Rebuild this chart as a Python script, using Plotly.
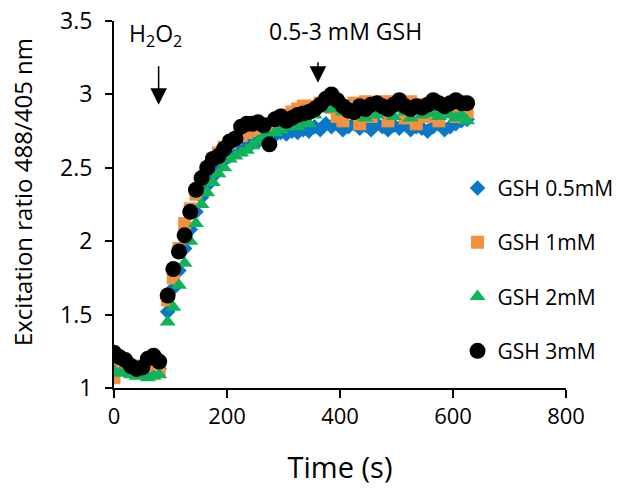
import plotly.graph_objects as go

# time points (s)
time_pre = [0, 10, 20, 30, 40, 50, 60, 70, 80]
time_post = [95, 105, 115, 125, 135, 145, 155, 165, 175, 185, 195, 205, 215, 225, 235,
             245, 255, 265, 275, 285, 295, 305, 315, 325, 335, 345, 355, 365, 375, 385,
             395, 405, 415, 425, 435, 445, 455, 465, 475, 485, 495, 505, 515, 525, 535,
             545, 555, 565, 575, 585, 595, 605, 615, 625]
time_s = time_pre + time_post

gsh_05 = [1.12, 1.15, 1.13, 1.14, 1.12, 1.11, 1.13, 1.14, 1.13,
          1.52, 1.68, 1.80, 1.95, 2.08, 2.20, 2.30, 2.38, 2.44, 2.50, 2.55, 2.58, 2.62, 2.64, 2.66,
          2.67, 2.68, 2.70, 2.71, 2.72, 2.74, 2.73, 2.75, 2.74, 2.76, 2.75, 2.78, 2.76, 2.80, 2.78,
          2.80, 2.76, 2.78, 2.80, 2.77, 2.79, 2.76, 2.80, 2.78, 2.76, 2.79, 2.77, 2.80, 2.76, 2.78,
          2.77, 2.75, 2.78, 2.80, 2.76, 2.78, 2.80, 2.82, 2.83]
gsh_1 = [1.07, 1.14, 1.13, 1.12, 1.15, 1.14, 1.16, 1.15, 1.12,
         1.60, 1.75, 1.95, 2.12, 2.22, 2.32, 2.42, 2.50, 2.56, 2.60, 2.64, 2.67, 2.70, 2.72, 2.74,
         2.76, 2.78, 2.79, 2.80, 2.82, 2.84, 2.86, 2.88, 2.90, 2.92, 2.90, 2.92, 2.94, 2.95, 2.91,
         2.85, 2.82, 2.92, 2.94, 2.80, 2.95, 2.85, 2.92, 2.95, 2.82, 2.95, 2.92, 2.84, 2.95, 2.80,
         2.93, 2.85, 2.95, 2.82, 2.90, 2.93, 2.85, 2.95, 2.88]
gsh_2 = [1.12, 1.10, 1.11, 1.09, 1.08, 1.09, 1.07, 1.08, 1.09,
         1.45, 1.55, 1.70, 1.85, 2.00, 2.12, 2.25, 2.33, 2.40, 2.46, 2.50, 2.56, 2.58, 2.60, 2.62,
         2.65, 2.68, 2.72, 2.70, 2.74, 2.76, 2.78, 2.80, 2.78, 2.82, 2.80, 2.86, 2.90, 2.93, 2.90,
         2.95, 2.88, 2.92, 2.86, 2.90, 2.84, 2.90, 2.86, 2.92, 2.88, 2.85, 2.90, 2.88, 2.84, 2.90,
         2.86, 2.89, 2.87, 2.85, 2.88, 2.86, 2.84, 2.86, 2.82]
gsh_3 = [1.24, 1.21, 1.19, 1.15, 1.13, 1.14, 1.20, 1.22, 1.18,
         1.63, 1.81, 1.93, 2.04, 2.20, 2.35, 2.43, 2.50, 2.56, 2.58, 2.63, 2.68, 2.70, 2.78, 2.80,
         2.80, 2.81, 2.79, 2.66, 2.83, 2.85, 2.82, 2.84, 2.86, 2.87, 2.88, 2.90, 2.93, 2.97, 3.00,
         2.96, 2.92, 2.89, 2.88, 2.92, 2.90, 2.93, 2.94, 2.92, 2.90, 2.93, 2.96, 2.92, 2.90, 2.92,
         2.91, 2.93, 2.96, 2.94, 2.92, 2.94, 2.96, 2.94, 2.94]

series_names = ["GSH 0.5mM", "GSH 1mM", "GSH 2mM", "GSH 3mM"]
series_values = [gsh_05, gsh_1, gsh_2, gsh_3]
colors = ["#0A78C8", "#F4913F", "#10B25A", "#000000"]
symbols = ["diamond", "square", "triangle-up", "circle"]
sizes = [12, 13, 14, 16]

FONT = "Open Sans"

fig = go.Figure()
for i, (name, vals) in enumerate(zip(series_names, series_values)):
    fig.add_trace(go.Scatter(
        x=time_s, y=vals, mode="markers", name=name, legendgroup=name,
        marker=dict(symbol=symbols[i], color=colors[i], size=sizes[i], line=dict(width=0)),
    ))

fig.update_layout(
    width=629, height=496,
    margin=dict(l=114, r=63, t=21, b=108, autoexpand=False),
    paper_bgcolor="white", plot_bgcolor="white",
    font=dict(family=FONT, color="black", size=22),
    showlegend=True,
    legend=dict(x=0.76, y=0.60, xanchor="left", yanchor="top",
                font=dict(size=21, family=FONT), tracegroupgap=24,
                itemsizing="trace", itemwidth=30, bgcolor="rgba(0,0,0,0)"),
    xaxis=dict(range=[0, 800], dtick=200, showline=True, linecolor="black", linewidth=2,
               ticks="outside", ticklen=8, tickwidth=2, tickcolor="black", showgrid=False,
               zeroline=False, tickfont=dict(size=22), automargin=False,
               title=dict(text="Time (s)", font=dict(size=29), standoff=28)),
    yaxis=dict(range=[1, 3.5], dtick=0.5, showline=True, linecolor="black", linewidth=2,
               ticks="outside", ticklen=7, tickwidth=2, tickcolor="black", showgrid=False,
               zeroline=False, tickfont=dict(size=23), automargin=False, ticklabelstandoff=8),
    annotations=[
        dict(x=-0.2035, y=0.534, xref="paper", yref="paper", showarrow=False,
             text="Excitation ratio 488/405 nm", textangle=-90, font=dict(size=24),
             xanchor="center", yanchor="middle"),
        dict(x=79, y=2.93, xref="x", yref="y", ax=0, ay=-40, showarrow=True,
             arrowhead=2, arrowsize=2.2, arrowwidth=1.5, arrowcolor="black", text=""),
        dict(x=361, y=3.08, xref="x", yref="y", ax=0, ay=-22, showarrow=True,
             arrowhead=2, arrowsize=2.2, arrowwidth=1.5, arrowcolor="black", text=""),
        dict(x=73, y=3.41, xref="x", yref="y", showarrow=False,
             text="H<sub>2</sub>O<sub>2</sub>", font=dict(size=23)),
        dict(x=409, y=3.43, xref="x", yref="y", showarrow=False,
             text="0.5-3 mM GSH", font=dict(size=23)),
    ],
)

fig.write_html("out.html")
